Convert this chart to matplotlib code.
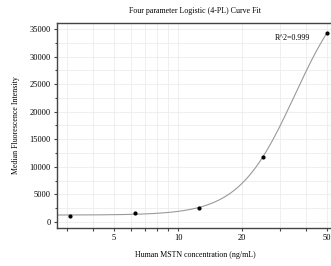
import numpy as np
import matplotlib
matplotlib.use("Agg")
import matplotlib.pyplot as plt
from matplotlib.ticker import FixedLocator, FixedFormatter, NullFormatter

plt.rcParams['font.family'] = ['Liberation Serif', 'DejaVu Serif']

conc = np.array([3.125, 6.25, 12.5, 25.0, 50.0])
mfi = np.array([1100, 1600, 2500, 11800, 34300])
major_ticks = [5, 10, 20, 50]
major_labels = ["5", "10", "20", "50"]
minor_ticks = [3, 4, 6, 7, 8, 9, 30, 40]
r2_text = "R^2=0.999"

# 4PL fit parameters (bottom, slope, EC50, top) as estimated from the chart
fit_A = 1250.0
fit_B = 3.3
fit_C = 35.3
fit_D = 44800.0


def fourpl(x, A, B, C, D):
    return D + (A - D) / (1 + (x / C) ** B)


fig = plt.figure(figsize=(3.31, 2.66), dpi=100)
ax = fig.add_axes([0.172, 0.143, 0.835, 0.7705])
ax.set_xscale('log')

xx = np.logspace(np.log10(2.7), np.log10(50), 300)
ax.plot(xx, fourpl(xx, fit_A, fit_B, fit_C, fit_D), color='#9a9a9a', lw=0.8, zorder=2)
ax.scatter(conc, mfi, s=4, color='black', zorder=3)

ax.set_xlim(2.7, 53.5)
ax.set_ylim(-1090, 36090)

ax.xaxis.set_major_locator(FixedLocator(major_ticks))
ax.xaxis.set_major_formatter(FixedFormatter(major_labels))
ax.xaxis.set_minor_locator(FixedLocator(minor_ticks))
ax.xaxis.set_minor_formatter(NullFormatter())
ax.set_yticks(np.arange(0, 35001, 5000))
ax.set_yticks(np.arange(0, 36001, 2500), minor=True)

ax.grid(True, which='both', color='#ececec', lw=0.6, zorder=0)
ax.set_axisbelow(True)

for s in ['left', 'bottom', 'top']:
    ax.spines[s].set_color('#444444')
    ax.spines[s].set_linewidth(1.0)
ax.spines['right'].set_visible(False)

ax.tick_params(which='both', direction='out', length=2.5, width=0.8,
               color='#444444', labelsize=6, pad=2)
ax.tick_params(axis='y', which='minor', length=1.5)
ax.tick_params(axis='x', which='minor', length=2.5)

ax.set_title("Four parameter Logistic (4-PL) Curve Fit", fontsize=5.7, pad=7)
ax.set_xlabel("Human MSTN concentration (ng/mL)", fontsize=5.7, labelpad=6)
ax.set_ylabel("Median Fluorescence Intensity", fontsize=5.7, labelpad=7)
ax.text(28.5, 33300, r2_text, fontsize=5.8, ha='left', va='center')

fig.savefig("out.png", dpi=100)
